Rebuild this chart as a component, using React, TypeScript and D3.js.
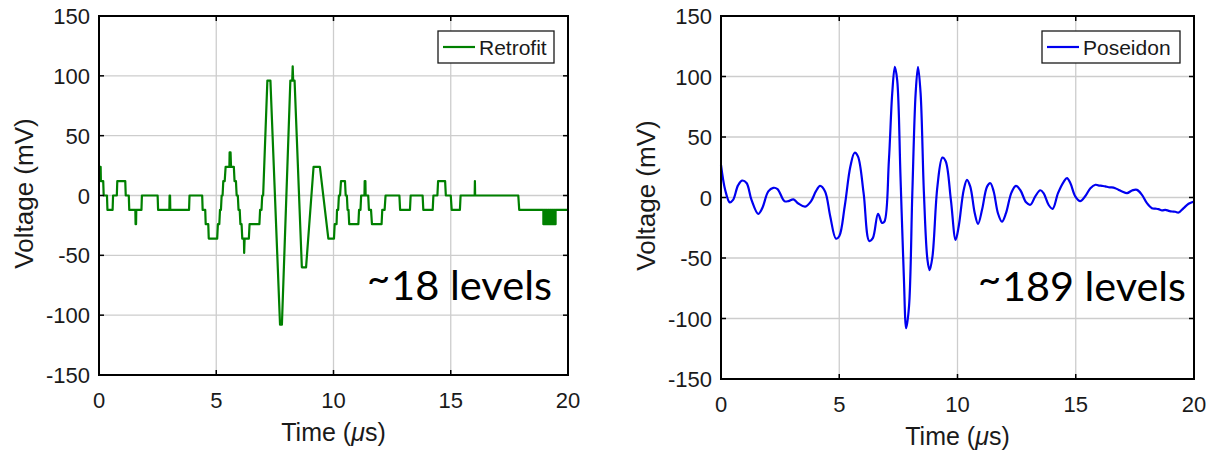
import React from "react";
import * as d3 from "d3";

// ---------- data ----------
const xTicks = [0, 5, 10, 15, 20];
const yTicks = [-150, -100, -50, 0, 50, 100, 150];

// Retrofit (quantized, ~12 mV steps): time (µs) and voltage (mV)
const retrofitT = [
  0, 0.07, 0.08, 0.18, 0.2, 0.34, 0.36, 0.58, 0.6, 0.76, 0.78, 1.12, 1.14, 1.27, 1.29, 1.55, 1.56, 1.58, 1.59, 1.81,
  1.83, 2.5, 2.52, 3.0, 3.01, 3.03, 3.04, 3.84, 3.86, 4.4, 4.42, 4.53, 4.55, 4.66, 4.68, 5.04, 5.07, 5.13, 5.16, 5.2,
  5.23, 5.27, 5.3, 5.36, 5.4, 5.56, 5.57, 5.59, 5.61, 5.63, 5.75, 5.78, 5.84, 5.87, 5.92, 5.95, 6.0, 6.03, 6.08, 6.11,
  6.18, 6.19, 6.21, 6.39, 6.42, 6.84, 6.87, 6.93, 6.96, 7.0, 7.18, 7.31, 7.72, 7.8, 8.16, 8.24, 8.26, 8.28, 8.34, 8.65,
  8.83, 9.15, 9.42, 9.78, 10.02, 10.05, 10.13, 10.15, 10.2, 10.23, 10.28, 10.32, 10.49, 10.52, 10.57, 10.6, 10.64, 10.67, 11.06, 11.09,
  11.15, 11.18, 11.32, 11.33, 11.36, 11.37, 11.48, 11.51, 11.6, 11.64, 12.05, 12.08, 12.18, 12.22, 12.81, 12.84, 13.26, 13.29, 13.8, 13.83,
  14.23, 14.26, 14.43, 14.46, 14.76, 14.79, 15.0, 15.04, 15.39, 15.42, 16.02, 16.03, 16.04, 17.88, 17.92, 18.95,
  18.95, 18.99, 18.99, 19.03, 19.03, 19.07, 19.07, 19.11, 19.11, 19.15, 19.15, 19.19, 19.19, 19.23, 19.23, 19.27, 19.27, 19.31,
  19.31, 19.35, 19.35, 19.39, 19.39, 19.43, 19.43, 19.47, 19.47, 19.49, 20,
];
const retrofitV = [
  24, 24, 12, 12, 0, 0, -12, -12, 0, 0, 12, 12, 0, 0, -12, -12, -24, -24, -12, -12,
  0, 0, -12, -12, 0, 0, -12, -12, 0, 0, -12, -12, -24, -24, -36, -36, -24, -24, -12, -12,
  0, 0, 12, 12, 24, 24, 36, 24, 36, 24, 24, 12, 12, 0, 0, -12, -12, -24, -24, -36,
  -36, -48, -36, -36, -24, -24, -12, -12, 0, 0, 96, 96, -108, -108, 96, 96, 108, 96, 96, -60,
  -60, 24, 24, -36, -36, -24, -24, -12, -12, 0, 0, 12, 12, 0, 0, -12, -12, -24, -24, -12,
  -12, 0, 0, 12, 12, 0, 0, -12, -12, -24, -24, -12, -12, 0, 0, -12, -12, 0, 0, -12,
  -12, 0, 0, 12, 12, 0, 0, -12, -12, 0, 0, 12, 0, 0, -12, -12,
  -24, -24, -12, -12, -24, -24, -12, -12, -24, -24, -12, -12, -24, -24, -12, -12, -24, -24,
  -12, -12, -24, -24, -12, -12, -24, -24, -12, -12, -12,
];

// Poseidon (fine resolution)
const poseidonT = [
  0, 0.18, 0.37, 0.51, 0.72, 0.89, 1.08, 1.29, 1.57, 1.74, 2.0, 2.21, 2.39, 2.68, 2.85, 3.06, 3.27, 3.56, 3.81, 4.01,
  4.19, 4.4, 4.62, 4.86, 5.0, 5.23, 5.47, 5.65, 5.79, 6.03, 6.27, 6.42, 6.64, 6.81, 6.91, 7.1, 7.24, 7.35, 7.45, 7.59,
  7.73, 7.83, 7.95, 8.09, 8.23, 8.33, 8.44, 8.58, 8.73, 8.82, 8.94, 9.15, 9.36, 9.5, 9.72, 9.92, 10.05, 10.26, 10.4, 10.54,
  10.73, 10.87, 11.04, 11.25, 11.39, 11.53, 11.71, 11.88, 12.05, 12.28, 12.47, 12.66, 12.9, 13.08, 13.29, 13.5, 13.64, 13.85, 14.02, 14.25,
  14.49, 14.63, 14.77, 14.98, 15.19, 15.4, 15.62, 15.83, 15.95, 16.11, 16.25, 16.39, 16.52, 16.67, 16.8, 16.96, 17.17, 17.38, 17.59, 17.8,
  18.01, 18.22, 18.36, 18.5, 18.65, 18.79, 18.93, 19.07, 19.21, 19.35, 19.56, 19.77, 20,
];
const poseidonV = [
  27, 6, -4, -2, 10, 14, 12, -2, -13.5, -9, 5, 8, 7, -3, -3, -1.5, -5, -7.5, -3, 5,
  9.6, 5, -15.7, -34, -32, -7.4, 25.6, 37, 34, 3.6, -36, -33.6, -13.5, -21, -20, 31, 86, 108, 97, 17,
  -65, -108, -90, 3.6, 86, 108, 86, 3.6, -51.5, -60, -49, 9, 33, 30, -2, -35, -24, 6, 14.6, 9,
  -13, -21.8, -10, 9, 11.8, 5, -13, -20, -13, 4, 9.6, 6, -4, -6, 1, 6, 3.6, -6, -9.4, 3.6,
  13, 16, 12, 1, -3, 1, 7.7, 10.5, 10, 9.6, 9.2, 8.5, 8.4, 7.7, 6.5, 5, 3.6, 5.8, 6.3, 2.2,
  -4.7, -8.8, -9.2, -9.6, -10.6, -10.2, -11, -11.6, -11.8, -12.4, -8.8, -5.2, -3.3,
];

// ---------- layout ----------
type PanelCfg = {
  x0: number; x1: number; y0: number; y1: number;
  t: number[]; v: number[]; color: string; label: string; legendW: number;
  note: string; noteX: number; noteW: number; noteY: number; stepped: boolean;
};

const panels: PanelCfg[] = [
  { x0: 99, x1: 568, y0: 16, y1: 375, t: retrofitT, v: retrofitV, color: "#008000", label: "Retrofit", legendW: 116, note: "18 levels", noteX: 367, noteW: 185, noteY: 300, stepped: true },
  { x0: 721, x1: 1194, y0: 16, y1: 379, t: poseidonT, v: poseidonV, color: "#0000f0", label: "Poseidon", legendW: 138, note: "189 levels", noteX: 978, noteW: 208, noteY: 301, stepped: false },
];

const FONT = "'Liberation Sans', Arial, Helvetica, sans-serif";

function Panel({ p }: { p: PanelCfg }) {
  const x = d3.scaleLinear().domain([0, 20]).range([p.x0, p.x1]);
  const y = d3.scaleLinear().domain([-150, 150]).range([p.y1, p.y0]);
  const pts: [number, number][] = p.t.map((t, i) => [t, p.v[i]]);
  const line = d3
    .line<[number, number]>()
    .x((d) => x(d[0]))
    .y((d) => y(d[1]))
    .curve(p.stepped ? d3.curveLinear : d3.curveCatmullRom.alpha(0.5));
  const tickLen = 5;
  const gridColor = "#cdcdcd";
  const lx = p.x1 - 14 - p.legendW;
  const ly = p.y0 + 15;
  return (
    <g>
      {xTicks.slice(1, -1).map((t) => (
        <line key={"gx" + t} x1={x(t)} x2={x(t)} y1={p.y0} y2={p.y1} stroke={gridColor} strokeWidth={1.3} />
      ))}
      {yTicks.slice(1, -1).map((v) => (
        <line key={"gy" + v} x1={p.x0} x2={p.x1} y1={y(v)} y2={y(v)} stroke={gridColor} strokeWidth={1.3} />
      ))}
      <path d={line(pts) || ""} fill="none" stroke={p.color} strokeWidth={2.2} strokeLinejoin="round" />
      <rect x={p.x0} y={p.y0} width={p.x1 - p.x0} height={p.y1 - p.y0} fill="none" stroke="#000" strokeWidth={2} />
      {xTicks.slice(1, -1).map((t) => (
        <g key={"tx" + t}>
          <line x1={x(t)} x2={x(t)} y1={p.y1} y2={p.y1 - tickLen} stroke="#000" strokeWidth={1.5} />
          <line x1={x(t)} x2={x(t)} y1={p.y0} y2={p.y0 + tickLen} stroke="#000" strokeWidth={1.5} />
        </g>
      ))}
      {yTicks.slice(1, -1).map((v) => (
        <g key={"ty" + v}>
          <line x1={p.x0} x2={p.x0 + tickLen} y1={y(v)} y2={y(v)} stroke="#000" strokeWidth={1.5} />
          <line x1={p.x1} x2={p.x1 - tickLen} y1={y(v)} y2={y(v)} stroke="#000" strokeWidth={1.5} />
        </g>
      ))}
      {xTicks.map((t) => (
        <text key={"lx" + t} x={x(t)} y={p.y1 + 33} textAnchor="middle" fontSize={22} fontFamily={FONT} fill="#1a1a1a">
          {t}
        </text>
      ))}
      {yTicks.map((v) => (
        <text key={"ly" + v} x={p.x0 - 9} y={y(v) + 8} textAnchor="end" fontSize={22} fontFamily={FONT} fill="#1a1a1a">
          {v}
        </text>
      ))}
      <text x={(p.x0 + p.x1) / 2} y={p.y1 + 66} textAnchor="middle" fontSize={25} fontFamily={FONT} fill="#1a1a1a">
        Time (<tspan fontStyle="italic">μ</tspan>s)
      </text>
      <text
        transform={`translate(${p.x0 - 66},${(p.y0 + p.y1) / 2 - 2}) rotate(-90)`}
        textAnchor="middle"
        fontSize={26}
        fontFamily={FONT}
        fill="#1a1a1a"
      >
        Voltage (mV)
      </text>
      <rect x={lx} y={ly} width={p.legendW} height={32} fill="#fff" stroke="#1a1a1a" strokeWidth={1.3} />
      <line x1={lx + 5} x2={lx + 37} y1={ly + 16} y2={ly + 16} stroke={p.color} strokeWidth={2.2} />
      <text x={lx + 41} y={ly + 23.5} fontSize={21} fontFamily={FONT} fill="#1a1a1a">
        {p.label}
      </text>
      {/* annotation: one text, raised tilde (Calibri-like) */}
      <text x={p.noteX} y={p.noteY} fontSize={40} fontFamily="Lato, 'Open Sans', sans-serif" fill="#000">
        <tspan x={p.noteX} y={p.noteY - 8}>~</tspan>
        <tspan x={p.noteX + 24} y={p.noteY} textLength={p.noteW - 24} lengthAdjust="spacingAndGlyphs">
          {p.note}
        </tspan>
      </text>
    </g>
  );
}

export default function App() {
  return (
    <svg
      width={1212}
      height={452}
      viewBox="0 0 1212 452"
      style={{ position: "absolute", left: 0, top: 0, display: "block", background: "#fff" }}
    >
      <rect x={0} y={0} width={1212} height={452} fill="#fff" />
      {panels.map((p, i) => (
        <Panel key={i} p={p} />
      ))}
    </svg>
  );
}
